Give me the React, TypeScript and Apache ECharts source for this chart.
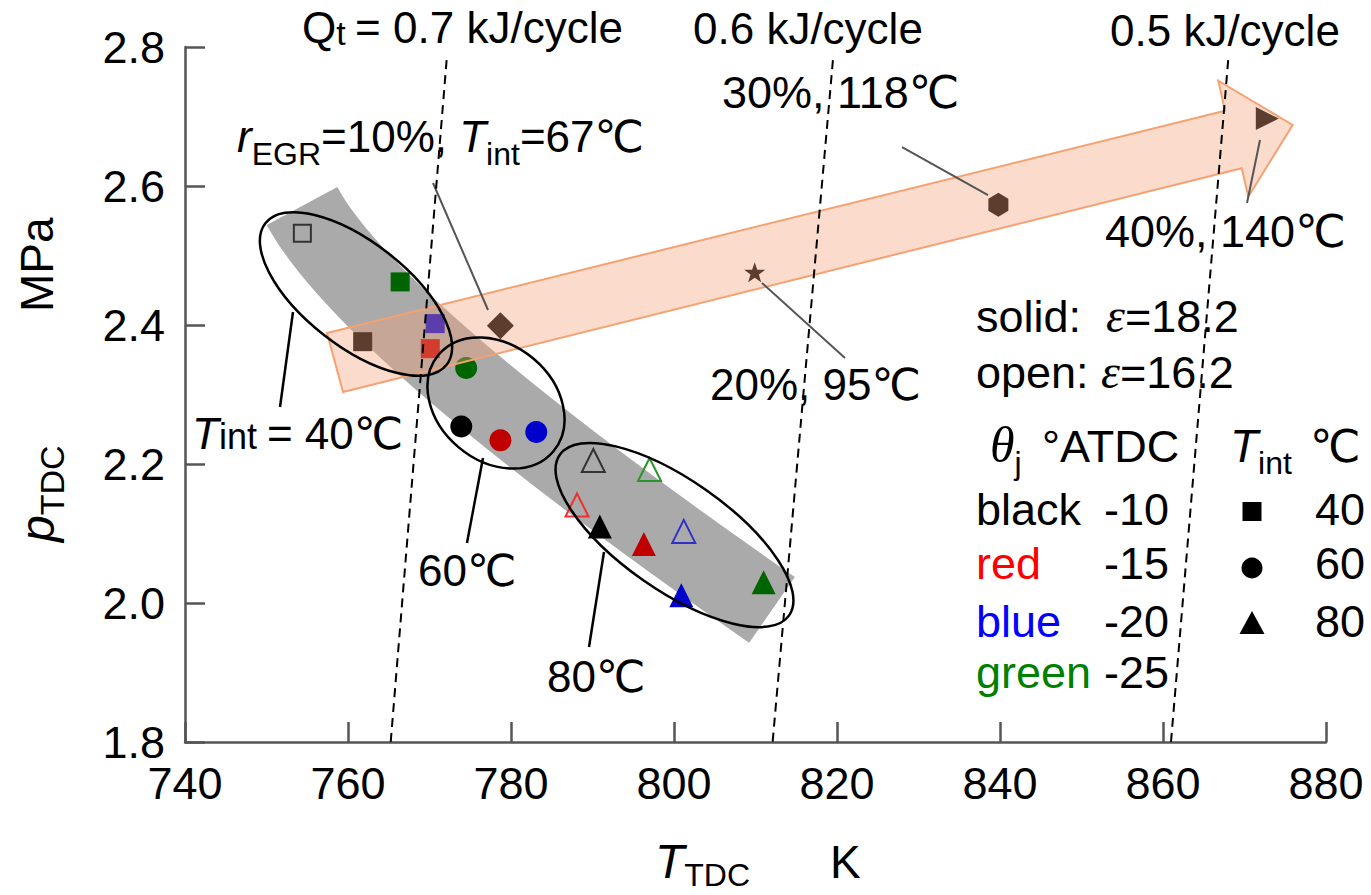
import React, { useEffect, useRef } from 'react';
import * as echarts from 'echarts';

const FF = "'Liberation Sans', Arial, Helvetica, 'DejaVu Sans', sans-serif";
const FSERIF = "'Liberation Serif', 'Times New Roman', 'DejaVu Serif', serif";

// ---- axes ----
const xMin = 740, xMax = 880, xStep = 20;
const yMin = 1.8, yMax = 2.8, yStep = 0.2;

// ---- key (θj colours, T_int symbols) ----
const thetaNames = ['black', 'red', 'blue', 'green'];
const thetaValues = ['-10', '-15', '-20', '-25'];
const solidColors = ['#000000', '#c00000', '#0000cc', '#006400'];
const openColors = ['#333333', '#f03030', '#3030c8', '#2a962a'];
const keyTextColors = ['#000000', '#ff0000', '#0000ff', '#008000'];
const tintValues = ['40', '60', '80'];

// ---- data: [T_TDC (K), p_TDC (MPa)], ordered black, red, blue, green ----
// solid: ε = 18.2
const solidT40 = [[761.8, 2.376], [770.1, 2.366], [770.7, 2.402], [766.4, 2.462]];
const solidT60 = [[773.9, 2.254], [778.7, 2.234], [783.1, 2.246], [774.5, 2.338]];
const solidT80 = [[790.9, 2.11], [796.3, 2.085], [800.9, 2.011], [811.0, 2.03]];
// open: ε = 16.2
const openT40 = [[754.4, 2.532]];
const openT80 = [[790.1, 2.205], [788.1, 2.141], [801.2, 2.103], [797.0, 2.192]];
// EGR sweep (rEGR 10..40 %)
const egrNames = ['10%, 67℃', '20%, 95℃', '30%, 118℃', '40%, 140℃'];
const egrPoints = [[778.7, 2.399], [809.9, 2.476], [839.8, 2.573], [872.8, 2.697]];
const STAR = 'path://M0,-10L2.35,-3.24L9.51,-3.09L3.8,1.24L5.88,8.09L0,4L-5.88,8.09L-3.8,1.24L-9.51,-3.09L-2.35,-3.24Z';
const HEX = 'path://M0,-10L8.66,-5L8.66,5L0,10L-8.66,5L-8.66,-5Z';
const egrSymbols = ['diamond', STAR, HEX, 'triangle'];
const egrSizes: any[] = [27, [21, 20], [20, 24], 23];
const egrRotate = [0, 0, 0, -90];

// Qt iso-lines
const qtNames = ['0.7 kJ/cycle', '0.6 kJ/cycle', '0.5 kJ/cycle'];
const qtLines = [
  [[772.1, 2.781], [765.24, 1.8]],
  [[819.5, 2.781], [812.1, 1.8]],
  [[868.0, 2.781], [860.98, 1.8]],
];

// ---- annotation geometry (data coords) ----
const bandStart = [754.36, 2.5712];
const bandCtrl = [762.45, 2.3942];
const bandEnd = [812.02, 1.99];
const arrowOutline = [
  [757.42, 2.3885], [867.61, 2.7083], [866.79, 2.7515], [875.91, 2.6878],
  [870.47, 2.5846], [869.66, 2.6255], [759.39, 2.3036],
];
const ellipseCenters = [[760.98, 2.4446], [778.16, 2.2878], [800.06, 2.0978]];
const ellipseRadii = [[115, 52], [75, 58], [140, 55]];
const ellipseAngles = [38, 40, 35];
const ellipseLeaders = [
  [[751.66, 2.282], [753.25, 2.4187]],
  [[774.6, 2.0863], [776.56, 2.2086]],
  [[789.57, 1.9367], [791.41, 2.0734]],
];
const egrLeaders = [
  [[770.43, 2.6043], [777.18, 2.4216]],
  [[810.8, 2.4604], [820.98, 2.3525]],
  [[827.98, 2.6561], [838.53, 2.587]],
  [[871.9, 2.6662], [870.31, 2.5755]],
];

function scatter(name: string, pts: number[][], symbol: string, size: number, colors: string[], hollow = false) {
  return {
    type: 'scatter',
    name,
    symbol,
    symbolSize: size,
    z: 2,
    silent: true,
    data: pts.map((p, i) => ({
      value: p,
      itemStyle: hollow
        ? { color: 'rgba(0,0,0,0)', borderColor: colors[i], borderWidth: 2, opacity: 1 }
        : { color: colors[i], opacity: 1 },
    })),
  };
}

type Run = { t: string; fs?: number; it?: boolean; serif?: boolean; dy?: number; color?: string };

export default function App() {
  const ref = useRef<HTMLDivElement>(null);
  useEffect(() => {
    document.body.style.margin = '0';
    const chart = echarts.init(ref.current!, null, { renderer: 'svg' });
    const axisLine = { show: true, lineStyle: { color: '#555555', width: 2.5 } };
    const axisTick = { show: true, inside: true, length: 20, lineStyle: { color: '#555555', width: 2.5 } };
    const option: any = {
      animation: false,
      backgroundColor: '#ffffff',
      grid: { left: 185, right: 45, top: 47, bottom: 153, containLabel: false, outerBoundsMode: 'none' },
      xAxis: {
        type: 'value', min: xMin, max: xMax, interval: xStep,
        axisLine, axisTick, splitLine: { show: false },
        axisLabel: { fontSize: 45, fontFamily: FF, color: '#000', margin: 19 },
      },
      yAxis: {
        type: 'value', min: yMin, max: yMax, interval: yStep,
        axisLine, axisTick, splitLine: { show: false },
        axisLabel: { fontSize: 45, fontFamily: FF, color: '#000', margin: 20, formatter: (v: number) => v.toFixed(1) },
      },
      series: [
        scatter('solid 40℃', solidT40, 'rect', 19, solidColors),
        scatter('solid 60℃', solidT60, 'circle', 22, solidColors),
        scatter('solid 80℃', solidT80, 'triangle', 24, solidColors),
        scatter('open 40℃', openT40, 'rect', 17, openColors, true),
        scatter('open 80℃', openT80, 'triangle', 23, openColors, true),
        {
          type: 'scatter', name: 'EGR', z: 2, silent: true,
          data: egrPoints.map((p, i) => ({
            name: egrNames[i], value: p, symbol: egrSymbols[i], symbolSize: egrSizes[i],
            symbolRotate: egrRotate[i], itemStyle: { color: '#000', opacity: 1 },
          })),
        },
        ...qtLines.map((d, i) => ({
          type: 'line', name: 'Qt ' + qtNames[i], data: d, symbol: 'none', z: 6, silent: true,
          lineStyle: { color: '#000', width: 2, type: [9, 6] },
        })),
      ],
    };
    chart.setOption(option);

    const px = (p: number[]) => chart.convertToPixel({ seriesIndex: 0 }, p) as number[];
    const ctx = document.createElement('canvas').getContext('2d')!;
    const runs = (x0: number, base: number, list: Run[], z = 8) => {
      let x = x0;
      return list.map((r) => {
        const fs = r.fs ?? 44;
        const fam = r.serif ? FSERIF : FF;
        ctx.font = `${r.it ? 'italic ' : ''}${fs}px ${fam}`;
        const w = ctx.measureText(r.t).width;
        const el = {
          type: 'text', x, y: base + (r.dy ?? 0) - 0.346 * fs, z, silent: true,
          style: {
            text: r.t, fontSize: fs, fontFamily: fam, fontStyle: r.it ? 'italic' : 'normal',
            fill: r.color ?? '#000', align: 'left', verticalAlign: 'middle',
          },
        };
        x += w;
        return el;
      });
    };

    const els: any[] = [];
    // grey band
    {
      const [x1, y1] = px(bandStart);
      const [cx, cy] = px(bandCtrl);
      const [x2, y2] = px(bandEnd);
      els.push({
        type: 'bezierCurve', z: 1, silent: true,
        shape: { x1, y1, x2, y2, cpx1: cx, cpy1: cy },
        style: { stroke: '#aaaaaa', lineWidth: 80, fill: 'none', lineCap: 'butt' },
      });
    }
    // EGR arrow
    els.push({
      type: 'polygon', z: 3, silent: true,
      shape: { points: arrowOutline.map(px) },
      style: { fill: 'rgba(242,160,120,0.38)', stroke: '#f4a272', lineWidth: 2 },
    });
    // ellipses
    ellipseCenters.forEach((c, i) => {
      const [x, y] = px(c);
      els.push({
        type: 'ellipse', z: 4, silent: true, x, y, rotation: (-ellipseAngles[i] * Math.PI) / 180,
        shape: { cx: 0, cy: 0, rx: ellipseRadii[i][0], ry: ellipseRadii[i][1] },
        style: { fill: 'none', stroke: '#000', lineWidth: 2.5 },
      });
    });
    const leader = (seg: number[][], stroke: string, lw: number) => {
      const [x1, y1] = px(seg[0]);
      const [x2, y2] = px(seg[1]);
      return { type: 'line', z: 4, silent: true, shape: { x1, y1, x2, y2 }, style: { stroke, lineWidth: lw } };
    };
    ellipseLeaders.forEach((s) => els.push(leader(s, '#000', 2.5)));
    egrLeaders.forEach((s) => els.push(leader(s, '#555', 2)));

    // annotation texts
    els.push(...runs(302, 43, [{ t: 'Q' }, { t: 't ', fs: 34, dy: 2 }, { t: '= 0.7 kJ/cycle' }]));
    els.push(...runs(693, 44, [{ t: qtNames[1] }]));
    els.push(...runs(1110, 46, [{ t: qtNames[2] }]));
    els.push(...runs(722, 108, [{ t: egrNames[2], fs: 45 }]));
    els.push(...runs(237, 152, [
      { t: 'r', it: true }, { t: 'EGR', fs: 32, dy: 13 }, { t: '=10%, ' },
      { t: 'T', it: true }, { t: 'int', fs: 32, dy: 13 }, { t: '=67℃' },
    ]));
    els.push(...runs(1105, 247, [{ t: egrNames[3], fs: 45 }]));
    els.push(...runs(710, 400, [{ t: egrNames[1] }]));
    els.push(...runs(192, 449, [{ t: 'T', it: true }, { t: 'int ', fs: 36 }, { t: '= 40℃' }]));
    els.push(...runs(418, 586, [{ t: '60℃' }]));
    els.push(...runs(547, 692, [{ t: '80℃' }]));

    // key
    els.push(...runs(976, 332, [{ t: 'solid:  ', fs: 45 }, { t: 'ε', fs: 48, it: true, serif: true }, { t: '=18.2', fs: 45 }]));
    els.push(...runs(976, 388, [{ t: 'open: ', fs: 45 }, { t: 'ε', fs: 48, it: true, serif: true }, { t: '=16.2', fs: 45 }]));
    els.push(...runs(990, 462, [{ t: 'θ', fs: 50, it: true, serif: true }, { t: 'j', fs: 32, dy: 12 }]));
    els.push(...runs(1042, 462, [{ t: '°ATDC', fs: 45 }]));
    els.push(...runs(1230, 462, [{ t: 'T', fs: 46, it: true }, { t: 'int', fs: 32, dy: 12 }]));
    els.push(...runs(1310, 462, [{ t: '℃', fs: 45 }]));
    const rowBase = [525, 579, 637, 688];
    thetaNames.forEach((n, i) => {
      els.push(...runs(976, rowBase[i], [{ t: n, fs: 45, color: keyTextColors[i] }]));
      els.push(...runs(1104, rowBase[i], [{ t: thetaValues[i], fs: 45 }]));
    });
    tintValues.forEach((v, i) => {
      els.push(...runs(1315, rowBase[i], [{ t: v, fs: 45 }]));
    });
    els.push({ type: 'rect', z: 8, silent: true, shape: { x: 1242.5, y: 502, width: 19, height: 19 }, style: { fill: '#000' } });
    els.push({ type: 'circle', z: 8, silent: true, shape: { cx: 1252, cy: 568, r: 10.5 }, style: { fill: '#000' } });
    els.push({ type: 'polygon', z: 8, silent: true, shape: { points: [[1252, 611], [1239.5, 634], [1264.5, 634]] }, style: { fill: '#000' } });

    // axis names
    els.push(...runs(655, 878, [{ t: 'T', fs: 48, it: true }, { t: 'TDC', fs: 32, dy: 8 }]));
    els.push(...runs(830, 878, [{ t: 'K', fs: 46 }]));
    els.push({
      type: 'group', x: 54, y: 542, rotation: Math.PI / 2,
      children: runs(0, 0, [{ t: 'p', fs: 48, it: true }, { t: 'TDC', fs: 34, dy: 10 }]),
    });
    els.push({
      type: 'group', x: 53, y: 312, rotation: Math.PI / 2,
      children: runs(0, 0, [{ t: 'MPa', fs: 46 }]),
    });

    chart.setOption({ graphic: els });
    return () => chart.dispose();
  }, []);
  return <div ref={ref} style={{ width: 1371, height: 895 }} />;
}
